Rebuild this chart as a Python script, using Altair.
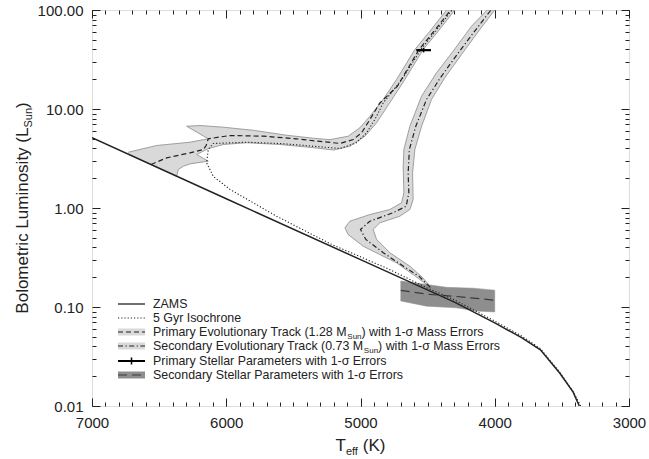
import altair as alt
import pandas as pd

# ---------------- data ----------------
zams_T = [7000, 6000, 5000, 4300, 4000, 3800, 3660, 3515, 3416, 3370]
zams_L = [5.12, 1.24, 0.301, 0.112, 0.069, 0.049, 0.037, 0.0214, 0.0138, 0.0100]

iso_T = [3360, 3416, 3515, 3660, 3800, 4000, 4300, 4500, 4800, 5228, 5625, 5799,
         5972, 6097, 6146, 6134, 6097, 5848, 5600, 5352, 5153, 5030, 4955, 4893,
         4831, 4690, 4550, 4440, 4318]
iso_L = [0.0100, 0.0140, 0.0218, 0.038, 0.051, 0.072, 0.118, 0.155, 0.245, 0.437,
         0.826, 1.13, 1.54, 2.09, 2.86, 3.90, 4.48, 4.62, 4.48, 4.21, 3.99, 4.56,
         5.75, 7.83, 11.5, 20.0, 40.0, 61.0, 100.0]

prim_T = [6560, 6444, 6270, 6171, 6150, 6134, 5972, 5724, 5476, 5300, 5153, 5054,
          4992, 4930, 4856, 4725, 4564, 4452, 4328]
prim_L = [2.75, 3.21, 3.61, 3.90, 4.27, 5.00, 5.40, 5.31, 5.00, 4.70, 4.49, 4.92,
          5.75, 7.83, 11.5, 17.0, 39.9, 61.1, 100.0]

prim_band_T = [6730, 6518, 6270, 6134, 6295, 6196, 6022, 5800, 5550, 5352, 5228, 5092,
               5005, 4930, 4831, 4731, 4595, 4483, 4359, 4297, 4421, 4533, 4669, 4781,
               4880, 4967, 5079, 5200, 5352, 5600, 5848, 6022, 6134, 6220, 6134, 6270,
               6320, 6357, 6369, 6730]
prim_band_L = [3.66, 4.28, 4.62, 5.00, 6.70, 6.81, 6.55, 6.10, 5.43, 5.07, 4.90, 5.31,
               6.46, 8.45, 12.5, 19.9, 39.9, 61.1, 100.0, 100.0, 61.1, 39.9, 19.9, 11.6,
               7.26, 5.31, 4.21, 3.85, 4.07, 4.38, 4.56, 4.38, 3.98, 3.47, 2.97, 2.79,
               2.64, 2.45, 2.09, 3.49]

sec_T = [4480, 4565, 4680, 4830, 4960, 5000, 4930, 4760, 4660, 4640, 4645, 4636,
         4588, 4508, 4405, 4280, 4140, 4028]
sec_L = [0.158, 0.205, 0.258, 0.353, 0.481, 0.607, 0.736, 0.893, 1.04, 1.42, 2.27,
         3.90, 6.70, 12.5, 20.7, 35.6, 63.5, 100.0]

sec_band_T = [4470, 4600, 4731, 4980, 5092, 5116, 5079, 4930, 4781, 4694, 4677, 4682,
              4677, 4632, 4545, 4434, 4310, 4173, 4057, 4000, 4111, 4247, 4372, 4471,
              4545, 4595, 4612, 4608, 4632, 4707, 4856, 4906, 4880, 4781, 4632, 4540,
              4470]
sec_band_L = [0.155, 0.209, 0.279, 0.411, 0.540, 0.631, 0.736, 0.859, 0.966, 1.13,
              1.42, 2.64, 3.90, 6.70, 13.5, 23.2, 38.4, 68.6, 100.0, 100.0, 63.5, 35.6,
              20.7, 12.5, 6.70, 3.90, 2.27, 1.22, 0.966, 0.826, 0.708, 0.607, 0.481,
              0.353, 0.258, 0.200, 0.155]

box_T = [4700, 4508, 4359, 4161, 4000, 4000, 4136, 4285, 4508, 4700, 4700]
box_L = [0.183, 0.169, 0.158, 0.155, 0.148, 0.089, 0.091, 0.098, 0.102, 0.115, 0.183]
box_mid_T = [4700, 4483, 4235, 4000]
box_mid_L = [0.147, 0.134, 0.126, 0.117]

star_T = [4530]
star_L = [39.3]
star_T_lo = [4475]
star_T_hi = [4585]
star_L_lo = [37.3]
star_L_hi = [41.4]

x_major = [3000, 4000, 5000, 6000, 7000]
x_minor = list(range(3000, 7001, 100))
y_major = [0.01, 0.1, 1.0, 10.0, 100.0]
y_minor = [m * d for d in (0.01, 0.1, 1.0, 10.0) for m in range(2, 10)]

# ---------------- layout ----------------
W, H = 537, 396
FONT = "Liberation Sans"
INK = "#222222"
BAND = "#d9d9d9"
BAND_EDGE = "#8a8a8a"
BOX = "#8e8e8e"

xsc = alt.Scale(domain=[3000, 7000], reverse=True, nice=False, zero=False)
ysc = alt.Scale(type="log", domain=[0.01, 100], nice=False)


def xy(axis_x=None, axis_y=None):
    return dict(x=alt.X("T:Q", scale=xsc, axis=axis_x),
                y=alt.Y("L:Q", scale=ysc, axis=axis_y))


def df(T, L):
    return pd.DataFrame({"T": T, "L": L, "i": list(range(len(T)))})


layers = []

# bands
layers.append(alt.Chart(df(prim_band_T, prim_band_L)).mark_line(
    fill=BAND, stroke=BAND_EDGE, strokeWidth=0.8, clip=True).encode(order="i:Q", **xy()))
layers.append(alt.Chart(df(sec_band_T, sec_band_L)).mark_line(
    fill=BAND, stroke=BAND_EDGE, strokeWidth=0.8, clip=True).encode(order="i:Q", **xy()))
layers.append(alt.Chart(df(box_T, box_L)).mark_line(
    fill=BOX, stroke=BOX, strokeWidth=0.5, clip=True).encode(order="i:Q", **xy()))
layers.append(alt.Chart(df(box_mid_T, box_mid_L)).mark_line(
    color="#3a3a3a", strokeWidth=1.2, strokeDash=[9, 5], clip=True).encode(order="i:Q", **xy()))

# lines
layers.append(alt.Chart(df(iso_T, iso_L)).mark_line(
    color=INK, strokeWidth=1.1, strokeDash=[1.2, 2], clip=True).encode(order="i:Q", **xy()))
layers.append(alt.Chart(df(zams_T, zams_L)).mark_line(
    color=INK, strokeWidth=1.5, clip=True).encode(order="i:Q", **xy()))
layers.append(alt.Chart(df(prim_T, prim_L)).mark_line(
    color=INK, strokeWidth=1.2, strokeDash=[5, 3], clip=True).encode(order="i:Q", **xy()))
layers.append(alt.Chart(df(sec_T, sec_L)).mark_line(
    color=INK, strokeWidth=1.2, strokeDash=[5, 2.5, 1.2, 2.5], clip=True).encode(order="i:Q", **xy()))

# primary star with error bars
star = pd.DataFrame({"T": star_T, "L": star_L, "Tlo": star_T_lo, "Thi": star_T_hi,
                     "Llo": star_L_lo, "Lhi": star_L_hi})
layers.append(alt.Chart(star).mark_rule(color="black", strokeWidth=2.2).encode(
    x=alt.X("Tlo:Q", scale=xsc, axis=None), x2="Thi:Q",
    y=alt.Y("L:Q", scale=ysc, axis=None)))
layers.append(alt.Chart(star).mark_rule(color="black", strokeWidth=1.5).encode(
    x=alt.X("T:Q", scale=xsc, axis=None),
    y=alt.Y("Llo:Q", scale=ysc, axis=None), y2="Lhi:Q"))

# axes: labels + inward ticks
dummy = pd.DataFrame({"T": [5000], "L": [1.0]})


def x_axis_layer(**kw):
    base = dict(grid=False, title=None, domain=False, labelOverlap=False)
    base.update(kw)
    return alt.Chart(dummy).mark_point(opacity=0).encode(
        x=alt.X("T:Q", scale=xsc, axis=alt.Axis(**base)))


def y_axis_layer(**kw):
    base = dict(grid=False, title=None, domain=False, labelOverlap=False)
    base.update(kw)
    return alt.Chart(dummy).mark_point(opacity=0).encode(
        y=alt.Y("L:Q", scale=ysc, axis=alt.Axis(**base)))


layers.append(x_axis_layer(orient="bottom", values=x_major, ticks=False, labelFontSize=15,
                           labelFont=FONT, labelColor=INK, labelPadding=9, format="d",
                           labelFlush=False))
layers.append(y_axis_layer(orient="left", values=y_major, ticks=False, labelFontSize=15,
                           labelFont=FONT, labelColor=INK, labelPadding=9, format=".2f",
                           labelFlush=False))
for orient in ("bottom", "top"):
    layers.append(x_axis_layer(orient=orient, values=x_major, labels=False, tickSize=8,
                               offset=-8, tickColor=INK, tickWidth=1))
    layers.append(x_axis_layer(orient=orient, values=x_minor, labels=False, tickSize=4,
                               offset=-4, tickColor=INK, tickWidth=1))
for orient in ("left", "right"):
    layers.append(y_axis_layer(orient=orient, values=y_major, labels=False, tickSize=8,
                               offset=-8, tickColor=INK, tickWidth=1))
    layers.append(y_axis_layer(orient=orient, values=y_minor, labels=False, tickSize=4,
                               offset=-4, tickColor=INK, tickWidth=1))

# ---------------- text helpers (titles and legend with subscripts) ----------------
AW = {" ": 278, "(": 333, ")": 333, "-": 333, ".": 278, "A": 667, "B": 667, "C": 722,
      "E": 667, "G": 778, "I": 278, "K": 667, "L": 556, "M": 833, "P": 667, "S": 667,
      "T": 611, "Z": 611, "a": 556, "b": 556, "c": 500, "d": 556, "e": 556, "f": 278,
      "g": 556, "h": 556, "i": 222, "k": 500, "l": 222, "m": 833, "n": 556, "o": 556,
      "p": 556, "r": 333, "s": 500, "t": 278, "u": 556, "v": 500, "w": 722, "y": 500,
      "σ": 571}


def tw(s, fs):
    return sum(AW.get(c, 556) for c in s) * fs / 1000.0


def run(pieces, x, y, angle=0):
    out = []
    off = 0.0
    for text, fs, sub in pieces:
        lead = len(text) - len(text.lstrip(" "))
        off += tw(" " * lead, fs)
        body = text.lstrip(" ")
        kw = dict(align="left", baseline="alphabetic", font=FONT, fontSize=fs,
                  color=INK, dx=off, dy=sub)
        if angle:
            kw["angle"] = angle
        out.append(alt.Chart(dummy).mark_text(**kw).encode(
            x=alt.value(x), y=alt.value(y), text=alt.value(body)))
        off += tw(body, fs)
    return out


def total(pieces):
    return sum(tw(t, fs) for t, fs, _ in pieces)


xt = [("T", 17, 0), ("eff", 11, 4), (" (K)", 17, 0)]
layers += run(xt, W / 2 - total(xt) / 2, H + 45)
yt = [("Bolometric Luminosity (L", 17, 0), ("Sun", 11, 4), (")", 17, 0)]
layers += run(yt, -64, H / 2 + total(yt) / 2, angle=270)

# legend
LFS = 12.4
LX0, LX1, TX = 26, 53, 61
rows = [294, 308, 322, 336, 351, 365]
leg_text = [
    [("ZAMS", LFS, 0)],
    [("5 Gyr Isochrone", LFS, 0)],
    [("Primary Evolutionary Track (1.28 M", LFS, 0), ("Sun", 8, 2.5),
     (") with 1-σ Mass Errors", LFS, 0)],
    [("Secondary Evolutionary Track (0.73 M", LFS, 0), ("Sun", 8, 2.5),
     (") with 1-σ Mass Errors", LFS, 0)],
    [("Primary Stellar Parameters with 1-σ Errors", LFS, 0)],
    [("Secondary Stellar Parameters with 1-σ Errors", LFS, 0)],
]
for r, pcs in zip(rows, leg_text):
    layers += run(pcs, TX, r + 4)


def hline(y, **kw):
    return alt.Chart(dummy).mark_rule(**kw).encode(
        x=alt.value(LX0), x2=alt.value(LX1), y=alt.value(y))


def hrect(y, fill):
    return alt.Chart(dummy).mark_rect(color=fill).encode(
        x=alt.value(LX0), x2=alt.value(LX1), y=alt.value(y - 3.5), y2=alt.value(y + 3.5))


layers.append(hline(rows[0], color=INK, strokeWidth=1.3))
layers.append(hline(rows[1], color=INK, strokeWidth=1.1, strokeDash=[1.2, 2]))
layers.append(hrect(rows[2], BAND))
layers.append(hline(rows[2], color=INK, strokeWidth=1.2, strokeDash=[5, 3]))
layers.append(hrect(rows[3], BAND))
layers.append(hline(rows[3], color=INK, strokeWidth=1.2, strokeDash=[5, 2.5, 1.2, 2.5]))
layers.append(hline(rows[4], color="black", strokeWidth=2))
layers.append(alt.Chart(dummy).mark_rule(color="black", strokeWidth=1.5).encode(
    x=alt.value((LX0 + LX1) / 2), y=alt.value(rows[4] - 3.5), y2=alt.value(rows[4] + 3.5)))
layers.append(hrect(rows[5], BOX))
layers.append(hline(rows[5], color="#3a3a3a", strokeWidth=1.2, strokeDash=[9, 5]))

chart = alt.layer(*layers).properties(
    width=W, height=H,
    padding={"left": 92, "top": 10, "right": 20, "bottom": 53},
    autosize=alt.AutoSizeParams(type="none"),
).resolve_axis(x="independent", y="independent").configure_view(
    stroke=INK, strokeWidth=1
).configure(background="white")

chart.save("out.html", embed_options={"renderer": "svg", "actions": False})
